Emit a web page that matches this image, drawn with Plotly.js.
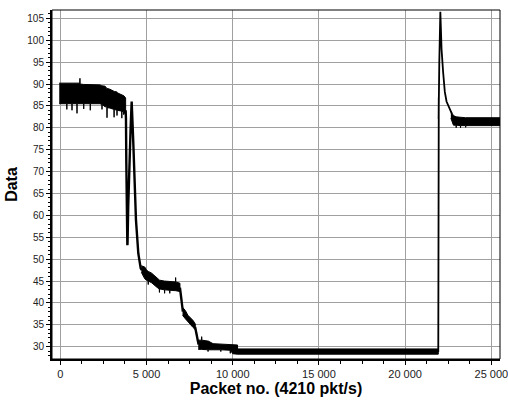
<!DOCTYPE html>
<html>
<head>
<meta charset="utf-8">
<script src="https://cdn.plot.ly/plotly-3.0.1.min.js"></script>
<style>html,body{margin:0;padding:0;background:#fff;}#chart{width:508px;height:401px;}</style>
</head>
<body>
<div id="chart"></div>
<script>
// ---- Data (packet number vs. value) ----
// Noisy plateaus are stored as envelopes (upper / lower edge of the band).
const band1X  = [-60, 370, 380, 390, 670, 680, 690, 960, 970, 980, 1130, 1140, 1150, 1350, 1360, 1370, 1730, 1740, 1750, 2300, 2410, 2420, 2430, 2600, 2700, 2710, 2720, 2880, 3110, 3120, 3130, 3280, 3290, 3300, 3560, 3570, 3580, 3670, 3680, 3690, 3790];
const band1Hi = [90.2, 90.2, 90.2, 90.2, 90.2, 90.2, 90.2, 90.2, 90.2, 90.2, 90.2, 91.3, 90.0, 89.9, 89.9, 89.9, 89.9, 89.9, 89.9, 89.8, 89.6, 89.6, 89.6, 89.5, 89.0, 89.0, 89.0, 88.8, 88.3, 88.3, 88.3, 88.2, 88.2, 88.0, 87.6, 87.6, 87.6, 87.3, 87.3, 87.3, 86.8];
const band1Lo = [85.5, 85.5, 84.2, 85.5, 85.5, 84.0, 85.5, 85.5, 83.3, 85.5, 85.5, 85.5, 85.5, 85.5, 84.3, 85.5, 85.5, 84.0, 85.5, 85.5, 85.3, 84.2, 85.3, 84.8, 84.8, 82.3, 84.6, 84.5, 84.2, 82.4, 84.2, 84.0, 82.8, 84.0, 83.8, 82.2, 83.8, 83.6, 83.0, 83.6, 83.0];

const band2X  = [4700, 4900, 5000, 5090, 5100, 5110, 5300, 5600, 5740, 5750, 5760, 6040, 6050, 6060, 6340, 6350, 6360, 6680, 6690, 6700, 6940];
const band2Hi = [48.5, 48.2, 47.5, 47.2, 47.2, 47.2, 46.8, 45.6, 45.2, 45.2, 45.2, 45.0, 45.0, 45.0, 44.9, 44.9, 44.9, 44.8, 45.8, 44.8, 44.5];
const band2Lo = [47.0, 45.5, 45.2, 45.0, 44.2, 45.0, 44.6, 43.6, 43.2, 42.4, 43.2, 43.0, 42.2, 43.0, 42.9, 42.2, 42.9, 42.8, 42.8, 42.8, 42.6];

const band3X  = [7090, 7250, 7400, 7550, 7700, 7830];
const band3Hi = [39.0, 38.3, 37.2, 36.6, 36.0, 35.2];
const band3Lo = [37.2, 36.4, 35.6, 35.0, 34.4, 33.9];

const band4X  = [8000, 8190, 8200, 8210, 8560, 8570, 8580, 8860, 9300, 9310, 9320, 9850, 9860, 9870, 10000, 10200, 10280];
const band4Hi = [31.5, 31.5, 32.3, 31.5, 31.3, 31.3, 31.3, 30.7, 30.6, 30.6, 30.6, 30.6, 30.6, 30.6, 30.6, 30.4, 30.4];
const band4Lo = [29.4, 29.4, 29.4, 29.4, 29.3, 28.9, 29.3, 29.3, 29.3, 28.9, 29.3, 29.2, 28.5, 29.2, 28.4, 28.3, 28.3];

const band5X  = [10280, 12000, 14000, 16000, 18000, 20000, 21920];
const band5Hi = [29.5, 29.5, 29.5, 29.5, 29.5, 29.5, 29.5];
const band5Lo = [28.3, 28.3, 28.3, 28.3, 28.3, 28.3, 28.3];

const band6X  = [22650, 22800, 22950, 22960, 22970, 23200, 23210, 23220, 23500, 23510, 23520, 24000, 25600];
const band6Hi = [83.8, 82.8, 82.5, 82.5, 82.5, 82.4, 82.4, 82.4, 82.3, 82.3, 82.3, 82.3, 82.3];
const band6Lo = [82.2, 80.6, 80.6, 80.0, 80.6, 80.5, 80.0, 80.5, 80.5, 80.1, 80.5, 80.5, 80.5];

// Transitions between plateaus (single trace line)
const drop1X = [3790, 3810, 3830, 3850, 3870, 3860, 3845, 3870, 3890, 3900, 3940, 4000, 4080, 4140, 4190, 4235, 4330, 4390, 4525, 4665, 4730];
const drop1Y = [84, 82, 72, 64.3, 63.5, 62.5, 64.5, 60, 53.2, 53.5, 62, 72, 80, 86, 82, 76.5, 65.8, 58.9, 51.3, 47.9, 47.5];
const drop2X = [6940, 6990, 7060, 7110];
const drop2Y = [43.5, 42, 40, 38];
const drop3X = [7820, 7900, 7980, 8020];
const drop3Y = [34.5, 32.5, 31, 30.5];
const riseX  = [21920, 21930, 21950, 21940, 21980, 22040, 22070, 22110, 22200, 22300, 22400, 22590, 22700];
const riseY  = [28.8, 84, 87, 82, 95, 106.5, 103, 98, 92.8, 88.2, 86, 84.4, 83.3];

const xTitle = 'Packet no. (4210 pkt/s)';
const yTitle = 'Data';

// ---- Build traces ----
const bands = [
  [band1X, band1Hi, band1Lo], [band2X, band2Hi, band2Lo], [band3X, band3Hi, band3Lo],
  [band4X, band4Hi, band4Lo], [band5X, band5Hi, band5Lo], [band6X, band6Hi, band6Lo]
];
const traces = bands.map(([bx, hi, lo]) => ({
  type: 'scatter', mode: 'lines',
  x: bx.concat(bx.slice().reverse()),
  y: hi.concat(lo.slice().reverse()),
  fill: 'toself', fillcolor: '#000',
  line: {color: '#000', width: 1},
  hoverinfo: 'skip', showlegend: false
}));
const segs = [[drop1X, drop1Y], [drop2X, drop2Y], [drop3X, drop3Y]];
let tx = [], ty = [];
segs.forEach(([sx, sy]) => { tx = tx.concat(sx, [null]); ty = ty.concat(sy, [null]); });
traces.push({
  type: 'scatter', mode: 'lines', x: tx, y: ty,
  line: {color: '#000', width: 2.4}, connectgaps: false,
  hoverinfo: 'skip', showlegend: false
});
traces.push({
  type: 'scatter', mode: 'lines', x: riseX, y: riseY,
  line: {color: '#000', width: 1.8},
  hoverinfo: 'skip', showlegend: false
});

const FONT = 'Liberation Sans, Arial, sans-serif';
const layout = {
  width: 508, height: 401,
  margin: {l: 52, r: 8, t: 10, b: 42},
  paper_bgcolor: '#fff', plot_bgcolor: '#fff',
  separators: '. ',
  showlegend: false,
  font: {family: FONT, color: '#000'},
  xaxis: {
    range: [-480, 25500], tickmode: 'linear', tick0: 0, dtick: 5000,
    tickformat: ',d', exponentformat: 'none', separatethousands: true,
    ticklabeloverflow: 'allow',
    showgrid: true, gridcolor: '#a0a0a0', gridwidth: 1, zeroline: false,
    showline: true, linecolor: '#000', linewidth: 2,
    ticks: 'outside', ticklen: 4, tickwidth: 1, tickcolor: '#000',
    minor: {tick0: 0, dtick: 1250, ticks: 'outside', ticklen: 3, tickcolor: '#000', showgrid: false},
    tickfont: {family: FONT, size: 11, color: '#222'},
    title: {text: xTitle, font: {family: FONT, size: 16, weight: 'bold', color: '#000'}, standoff: 4}
  },
  yaxis: {
    range: [27.2, 106.9], tickmode: 'linear', tick0: 0, dtick: 5,
    showgrid: true, gridcolor: '#a0a0a0', gridwidth: 1, zeroline: false,
    showline: true, linecolor: '#000', linewidth: 2,
    ticks: 'outside', ticklen: 4, tickwidth: 1, tickcolor: '#000',
    minor: {tick0: 0, dtick: 1, ticks: 'outside', ticklen: 2, tickcolor: '#000', showgrid: false},
    tickfont: {family: FONT, size: 10, color: '#222'},
    title: {text: yTitle, font: {family: FONT, size: 16, weight: 'bold', color: '#000'}, standoff: 6}
  },
  shapes: [{type: 'rect', xref: 'paper', yref: 'paper', x0: 0, x1: 1, y0: 0, y1: 1,
            line: {color: '#000', width: 1}, layer: 'above'}]
};
Plotly.newPlot('chart', traces, layout, {staticPlot: true, displayModeBar: false});
</script>
</body>
</html>
